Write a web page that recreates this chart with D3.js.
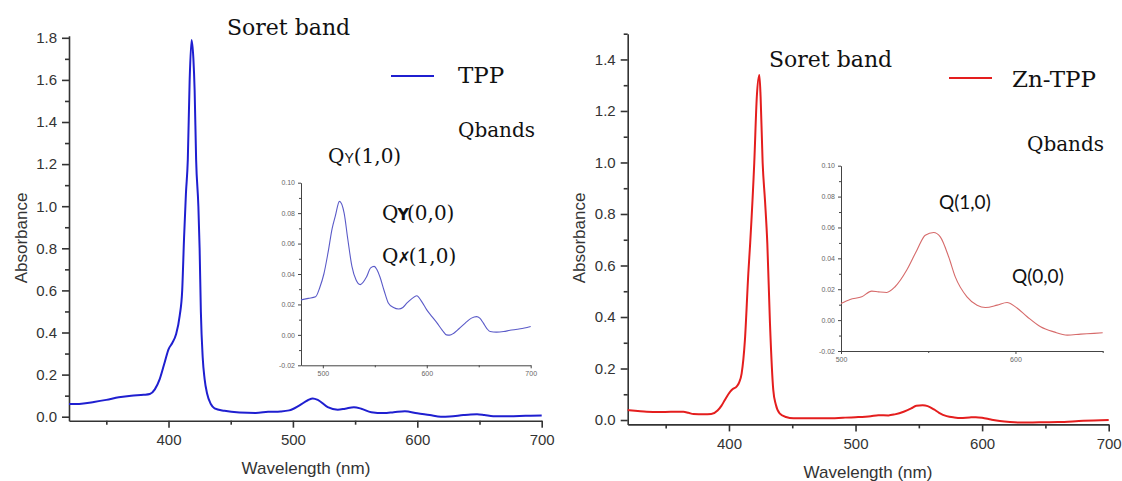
<!DOCTYPE html>
<meta charset="utf-8">
<style>
body { margin: 0; background: #fff; }
svg { display: block; }
.tick text { font-family: "Liberation Sans", Arial, sans-serif; }
</style>
<svg width="1122" height="481"></svg>
<script src="https://d3js.org/d3.v7.min.js"></script>
<script>

// TPP, main spectrum
var tppWl  = [320, 330, 340, 350, 360, 370, 380, 385, 389, 393, 397, 400, 403, 406, 409, 411, 412.5, 414, 415.5, 417, 418.5, 420, 421, 422.2, 424, 425, 426, 427.5, 429, 431, 434, 437, 445, 457, 470, 480, 490, 497, 505, 512, 516, 520, 528, 536, 542, 549, 555, 563, 573, 581, 590, 600, 610, 619, 626, 637, 643, 648, 654, 661, 674, 687, 700];
var tppAbs = [0.06, 0.062, 0.07, 0.08, 0.092, 0.1, 0.104, 0.108, 0.13, 0.18, 0.26, 0.32, 0.35, 0.39, 0.48, 0.6, 0.85, 1.06, 1.22, 1.6, 1.79, 1.7, 1.55, 1.22, 1.0, 0.8, 0.5, 0.28, 0.18, 0.11, 0.06, 0.04, 0.028, 0.02, 0.018, 0.023, 0.025, 0.03, 0.053, 0.078, 0.087, 0.08, 0.045, 0.033, 0.038, 0.045, 0.038, 0.021, 0.017, 0.021, 0.026, 0.016, 0.008, 0.0, 0.001, 0.008, 0.011, 0.012, 0.008, 0.002, 0.002, 0.004, 0.0055];

// TPP, Q band inset
var tppQWl  = [479, 486, 493, 497, 501, 505, 509, 512, 516, 520.5, 524, 528, 532, 536, 542, 546, 549.4, 552, 555, 559, 563, 568, 573, 577, 581, 586, 590.4, 595, 600, 605, 610, 615, 619, 622, 626, 631, 637, 643, 648, 651, 654.5, 658, 661, 667, 674, 680, 687, 694, 700];
var tppQAbs = [0.023, 0.024, 0.025, 0.031, 0.04, 0.054, 0.07, 0.078, 0.0877, 0.08, 0.063, 0.045, 0.036, 0.033, 0.038, 0.044, 0.045, 0.043, 0.038, 0.029, 0.021, 0.018, 0.017, 0.018, 0.021, 0.024, 0.0257, 0.022, 0.0164, 0.012, 0.0077, 0.003, 0.0, -0.0002, 0.0011, 0.004, 0.0077, 0.011, 0.012, 0.011, 0.0077, 0.004, 0.0022, 0.0018, 0.0022, 0.003, 0.0037, 0.0045, 0.0055];

// Zn-TPP, main spectrum
var znWl  = [320, 328, 335, 345, 354, 364, 368, 372, 380, 386, 391, 394, 397, 401, 403, 406, 408, 410, 412.6, 415.3, 416.8, 420, 422, 424, 425, 426.6, 428.5, 430.3, 432.4, 435, 437, 440, 445, 451, 477, 490, 500, 512, 518, 526, 531, 538, 544, 548, 553, 557, 562, 566, 572, 578, 583, 590, 595, 600, 607, 614, 622, 630, 645, 660, 680, 700];
var znAbs = [0.039, 0.035, 0.032, 0.031, 0.032, 0.032, 0.028, 0.023, 0.022, 0.023, 0.037, 0.055, 0.08, 0.11, 0.12, 0.13, 0.145, 0.18, 0.31, 0.57, 0.69, 1.0, 1.255, 1.34, 1.255, 1.0, 0.85, 0.686, 0.375, 0.117, 0.06, 0.026, 0.012, 0.007, 0.007, 0.009, 0.011, 0.015, 0.019, 0.018, 0.022, 0.032, 0.045, 0.055, 0.057, 0.054, 0.041, 0.028, 0.015, 0.01, 0.008, 0.01, 0.011, 0.009, 0.002, -0.004, -0.008, -0.01, -0.009, -0.008, -0.003, 0.0];

// Zn-TPP, Q band inset
var znQWl  = [500, 505.2, 511.9, 517.6, 521.5, 526.2, 531, 537.7, 543.5, 548.3, 553.1, 556.9, 561.7, 565.5, 572.2, 578, 582.8, 589.5, 595.2, 600, 606.7, 614.4, 622, 629.7, 637.4, 645, 650];
var znQAbs = [0.0108, 0.0134, 0.0151, 0.0188, 0.0183, 0.0179, 0.0216, 0.0324, 0.0453, 0.055, 0.0567, 0.0539, 0.041, 0.028, 0.0151, 0.0097, 0.0082, 0.0097, 0.0114, 0.0086, 0.0022, -0.0043, -0.0076, -0.0097, -0.0091, -0.0086, -0.0082];

var mainXTicks = [400, 500, 600, 700];
var mainXMinor = [350, 450, 550, 650];
var tppYTicks = d3.range(0, 1.81, 0.2);
var znYTicks = d3.range(0, 1.41, 0.2);
var insetYTicks = [-0.02, 0, 0.02, 0.04, 0.06, 0.08, 0.10];
var tppInsetXTicks = [500, 600, 700];
var znInsetXTicks = [500, 600];

var svg = d3.select("svg");

function zip(a, b) {
  return a.map(function(d, i) { return [d, b[i]]; });
}

function drawAxes(x, y, xTicks, xMinor, yTicks, yMinor, fmt, opt) {
  var g = svg.append("g");
  var y0 = y.range()[0], x0 = x.range()[0];

  // minor ticks first (no labels)
  g.append("g").attr("transform", "translate(0," + y0 + ")")
    .call(d3.axisBottom(x).tickValues(xMinor).tickSize(opt.minor).tickFormat(""))
    .call(function(s) { s.select(".domain").remove(); });
  g.append("g").attr("transform", "translate(" + x0 + ",0)")
    .call(d3.axisLeft(y).tickValues(yMinor).tickSize(opt.minor).tickFormat(""))
    .call(function(s) { s.select(".domain").remove(); });

  g.append("g").attr("transform", "translate(0," + y0 + ")")
    .call(d3.axisBottom(x).tickValues(xTicks).tickSize(opt.major).tickSizeOuter(0).tickPadding(opt.padX).tickFormat(d3.format("d")));
  g.append("g").attr("transform", "translate(" + x0 + ",0)")
    .call(d3.axisLeft(y).tickValues(yTicks).tickSize(opt.major).tickSizeOuter(0).tickPadding(opt.padY).tickFormat(fmt));

  g.selectAll("line").attr("stroke", opt.color).attr("stroke-width", opt.width);
  g.selectAll(".domain").attr("stroke", opt.color).attr("stroke-width", opt.width);
  g.selectAll("text").attr("fill", opt.text).style("font-size", opt.font + "px");
  return g;
}

function drawLine(x, y, data, color, width) {
  svg.append("path")
    .datum(data)
    .attr("fill", "none")
    .attr("stroke", color)
    .attr("stroke-width", width)
    .attr("stroke-linejoin", "round")
    .attr("d", d3.line().curve(d3.curveMonotoneX)
      .x(function(d) { return x(d[0]); })
      .y(function(d) { return y(d[1]); }));
}

var mainOpt = { major: 7, minor: 4, padX: 7, padY: 5, color: "#333", width: 1.6, text: "#333", font: 15 };
var insetOpt = { major: 3, minor: 2, padX: 3, padY: 3, color: "#444", width: 1, text: "#666", font: 7 };
var fmt1 = function(d) { return d.toFixed(1); };
var fmt2 = function(d) { return d.toFixed(2); };

// ---------- left panel: TPP ----------
var xL = d3.scaleLinear().domain([320, 700]).range([69, 541.7]);
var yL = d3.scaleLinear().domain([-0.019, 1.81]).range([420.7, 35.7]);
drawAxes(xL, yL, mainXTicks, mainXMinor, tppYTicks, d3.range(0.1, 1.8, 0.2), fmt1, mainOpt);
drawLine(xL, yL, zip(tppWl, tppAbs), "#1f1fd0", 2);

var xLi = d3.scaleLinear().domain([479, 700]).range([301, 530.7]);
var yLi = d3.scaleLinear().domain([-0.02, 0.10]).range([365.3, 182.7]);
drawAxes(xLi, yLi, tppInsetXTicks, [550, 650], insetYTicks, d3.range(-0.01, 0.1, 0.02), fmt2, insetOpt);
drawLine(xLi, yLi, zip(tppQWl, tppQAbs), "#5a5ac8", 1.1);

// ---------- right panel: Zn-TPP ----------
var xR = d3.scaleLinear().domain([320, 700]).range([627.7, 1108.7]);
var yR = d3.scaleLinear().domain([-0.017, 1.5]).range([424.4, 33.7]);
drawAxes(xR, yR, mainXTicks, mainXMinor, znYTicks, d3.range(0.1, 1.55, 0.2), fmt1, mainOpt);
drawLine(xR, yR, zip(znWl, znAbs), "#e41e1e", 2);

var xRi = d3.scaleLinear().domain([500, 650]).range([841, 1102.7]);
var yRi = d3.scaleLinear().domain([-0.02, 0.10]).range([351, 165.7]);
drawAxes(xRi, yRi, znInsetXTicks, [550, 650], insetYTicks, d3.range(-0.01, 0.1, 0.02), fmt2, insetOpt);
drawLine(xRi, yRi, zip(znQWl, znQAbs), "#d66a6a", 1.1);

// ---------- axis titles ----------
function label(x, y, txt, rot) {
  svg.append("text")
    .attr("transform", "translate(" + x + "," + y + ")" + (rot ? "rotate(-90)" : ""))
    .attr("text-anchor", "middle")
    .style("font-family", "Liberation Sans, Arial, sans-serif")
    .style("font-size", "17px")
    .attr("fill", "#333")
    .text(txt);
}
label(27, 238, "Absorbance", true);
label(585, 238, "Absorbance", true);
label(306, 474, "Wavelength (nm)");
label(868, 478, "Wavelength (nm)");

// ---------- annotations ----------
function serif(x, y, txt, size) {
  return svg.append("text")
    .attr("x", x).attr("y", y)
    .style("font-family", "DejaVu Serif, serif")
    .style("font-size", size + "px")
    .attr("fill", "#111")
    .text(txt);
}
serif(227, 35, "Soret band", 22);
serif(769, 67, "Soret band", 22);
serif(458, 83, "TPP", 23);
serif(1012, 87, "Zn-TPP", 23);
serif(458, 137, "Qbands", 20);
serif(1027, 151, "Qbands", 20);

// legend lines
svg.append("line").attr("x1", 391).attr("x2", 434).attr("y1", 76).attr("y2", 76)
  .attr("stroke", "#1f1fd0").attr("stroke-width", 2);
svg.append("line").attr("x1", 949).attr("x2", 992).attr("y1", 78).attr("y2", 78)
  .attr("stroke", "#e41e1e").attr("stroke-width", 2);

// Q band labels, TPP
var qy = serif(328, 163, "Q", 20);
qy.append("tspan").style("font-family", "Liberation Sans, sans-serif").style("font-size", "14px").text("Y");
qy.append("tspan").text("(1,0)");

var q00 = serif(382, 220, "Q", 20);
q00.append("tspan").attr("dx", -1).style("font-family", "DejaVu Sans, sans-serif").style("font-weight", "bold").style("font-size", "16px").text("Y");
q00.append("tspan").attr("dx", -2).text("(0,0)");

var q10 = serif(382, 263, "Q", 20);
q10.append("tspan").attr("dx", -1).style("font-family", "DejaVu Sans, sans-serif").style("font-weight", "bold").style("font-size", "16px").text("\u2717");
q10.append("tspan").attr("dx", -2).text("(1,0)");

// Q band labels, Zn-TPP
function sans(x, y, txt) {
  svg.append("text").attr("x", x).attr("y", y)
    .style("font-family", "Lato, sans-serif").style("font-size", "19px")
    .attr("fill", "#111").text(txt);
}
sans(939, 209, "Q(1,0)");
sans(1012, 283, "Q(0,0)");

</script>
